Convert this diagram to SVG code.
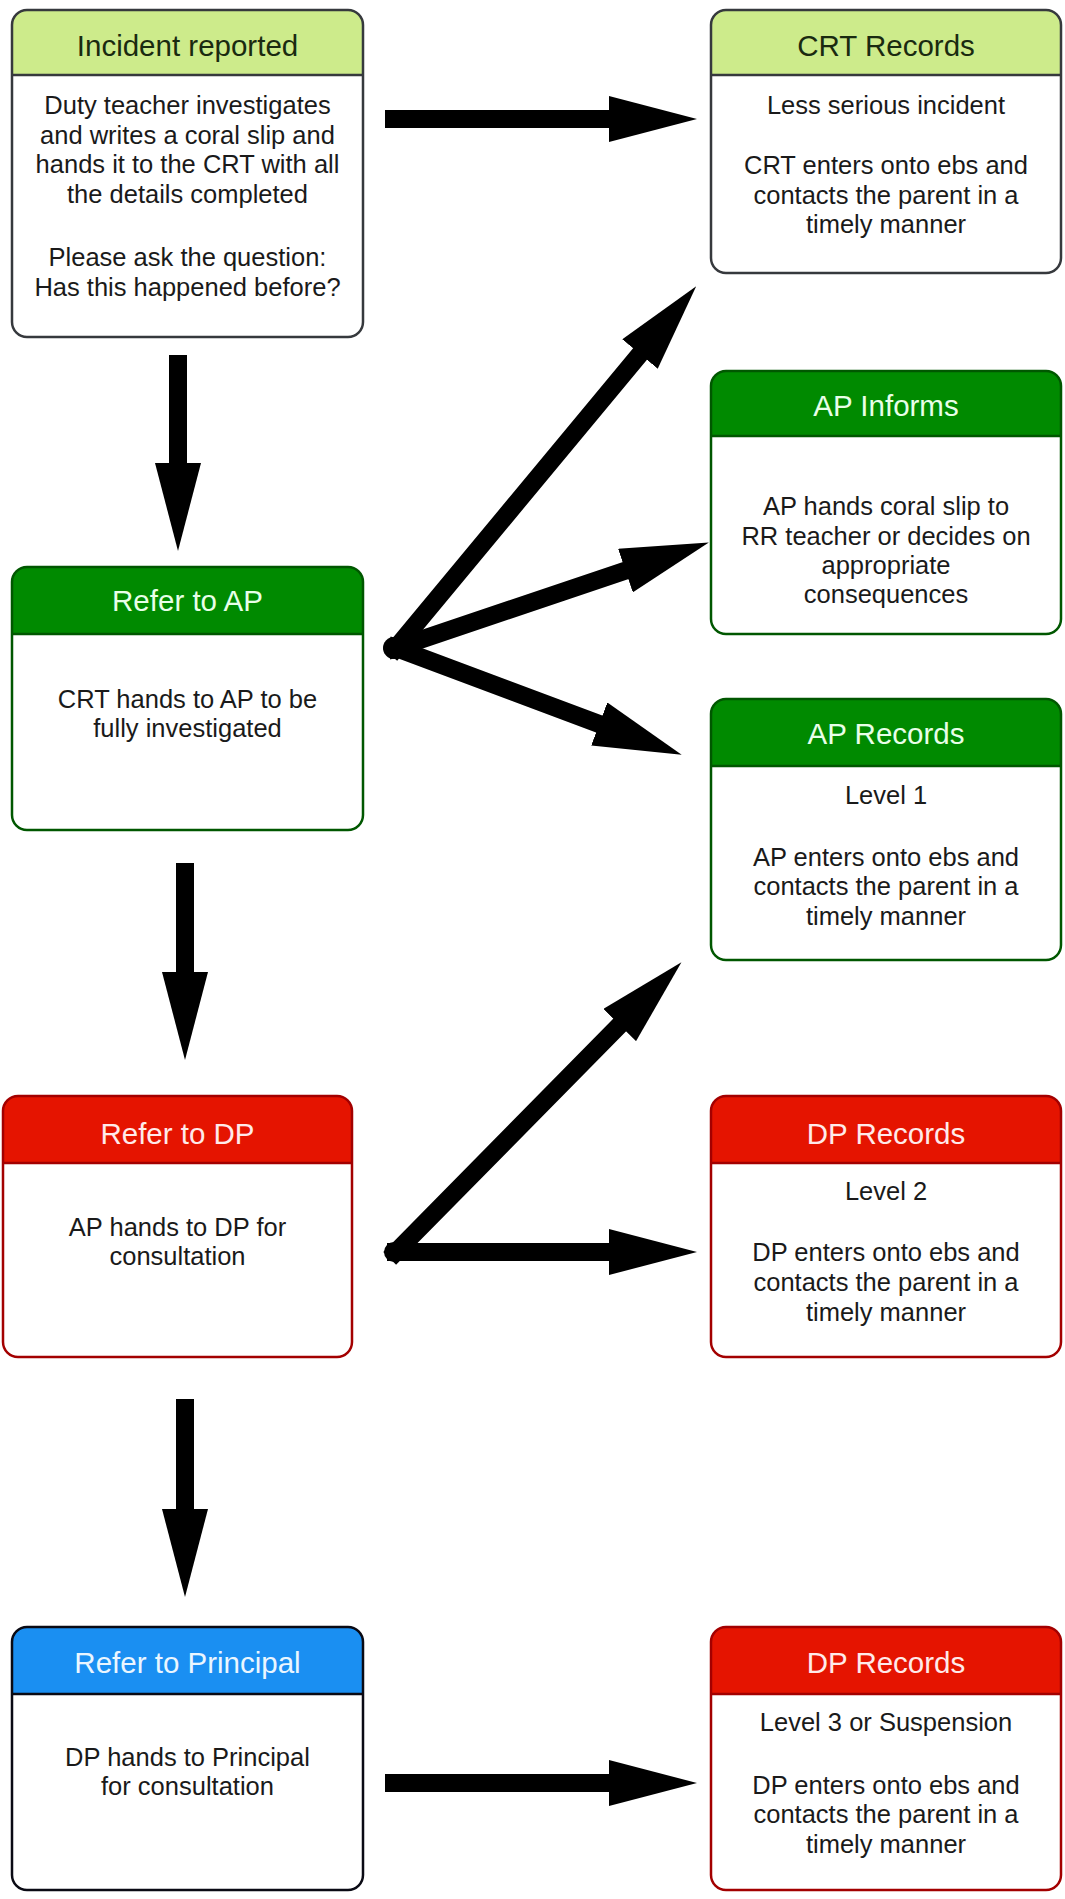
<svg xmlns="http://www.w3.org/2000/svg" width="1065" height="1899" viewBox="0 0 1065 1899">
<defs>
<style>
.box{fill:none;stroke-width:2.5}
.body{fill:#fff}
.t{font-family:"Liberation Sans",Arial,Helvetica,sans-serif;font-size:29.5px;text-anchor:middle}
.b{font-family:"Liberation Sans",Arial,Helvetica,sans-serif;font-size:25.5px;text-anchor:middle;fill:#1a1a1a}
.lg .hd{fill:#cdeb8b}.lg .box,.lg .sep{stroke:#36393d}.lg .t{fill:#1a2a10}
.gr .hd{fill:#008a00}.gr .box,.gr .sep{stroke:#005700}.gr .t{fill:#e8ffe8}
.rd .hd{fill:#e51400}.rd .box,.rd .sep{stroke:#a30000}.rd .t{fill:#ffeaea}
.bl .hd{fill:#1a8ff2}.bl .box,.bl .sep{stroke:#0a0a14}.bl .t{fill:#eaf6ff}
.sep{stroke-width:2.5}
.arr{stroke:#000;stroke-width:18;fill:none;stroke-linecap:butt;marker-end:url(#ah)}
.fan{stroke-linecap:square}
.hub{fill:#000}
</style>
<marker id="ah" viewBox="0 0 88 46" refX="18" refY="23" markerWidth="88" markerHeight="46" markerUnits="userSpaceOnUse" orient="auto">
<path d="M0,0 L88,23 L0,46 Z" fill="#000"/>
</marker>
</defs>
<rect width="1065" height="1899" fill="#fff"/>

<g id="connectors">
<line class="arr" x1="385" y1="119" x2="627" y2="119"/>
<line class="arr" x1="178" y1="355" x2="178" y2="481"/>
<line class="arr fan" x1="396" y1="648" x2="651.5" y2="340.2"/>
<line class="arr fan" x1="396" y1="648" x2="642.5" y2="564.8"/>
<line class="arr fan" x1="396" y1="648" x2="616.1" y2="730.3"/>
<circle class="hub" cx="394" cy="648" r="11"/>
<line class="arr" x1="185" y1="863" x2="185" y2="990"/>
<line class="arr fan" x1="396" y1="1252" x2="632.3" y2="1012.2"/>
<line class="arr fan" x1="396" y1="1252" x2="627" y2="1252"/>
<circle class="hub" cx="394" cy="1252" r="10"/>
<line class="arr" x1="185" y1="1399" x2="185" y2="1527"/>
<line class="arr" x1="385" y1="1783" x2="627" y2="1783"/>
</g>

<g id="incident-reported" class="lg">
<rect class="body" x="12" y="10" width="351" height="327" rx="15"/>
<path class="hd" d="M12,75 V25 A15,15 0 0 1 27,10 H348 A15,15 0 0 1 363,25 V75 Z"/>
<line class="sep" x1="12" y1="75" x2="363" y2="75"/>
<rect class="box" x="12" y="10" width="351" height="327" rx="15"/>
<text class="t" x="187.5" y="56">Incident reported</text>
<text class="b" x="187.5" y="114">Duty teacher investigates</text>
<text class="b" x="187.5" y="143.5">and writes a coral slip and</text>
<text class="b" x="187.5" y="173">hands it to the CRT with all</text>
<text class="b" x="187.5" y="202.5">the details completed</text>
<text class="b" x="187.5" y="266">Please ask the question:</text>
<text class="b" x="187.5" y="295.5">Has this happened before?</text>
</g>

<g id="crt-records" class="lg">
<rect class="body" x="711" y="10" width="350" height="263" rx="15"/>
<path class="hd" d="M711,75 V25 A15,15 0 0 1 726,10 H1046 A15,15 0 0 1 1061,25 V75 Z"/>
<line class="sep" x1="711" y1="75" x2="1061" y2="75"/>
<rect class="box" x="711" y="10" width="350" height="263" rx="15"/>
<text class="t" x="886" y="56">CRT Records</text>
<text class="b" x="886" y="114">Less serious incident</text>
<text class="b" x="886" y="174">CRT enters onto ebs and</text>
<text class="b" x="886" y="203.5">contacts the parent in a</text>
<text class="b" x="886" y="233">timely manner</text>
</g>

<g id="refer-to-ap" class="gr">
<rect class="body" x="12" y="567" width="351" height="263" rx="15"/>
<path class="hd" d="M12,634 V582 A15,15 0 0 1 27,567 H348 A15,15 0 0 1 363,582 V634 Z"/>
<line class="sep" x1="12" y1="634" x2="363" y2="634"/>
<rect class="box" x="12" y="567" width="351" height="263" rx="15"/>
<text class="t" x="187.5" y="611">Refer to AP</text>
<text class="b" x="187.5" y="708">CRT hands to AP to be</text>
<text class="b" x="187.5" y="737">fully investigated</text>
</g>

<g id="ap-informs" class="gr">
<rect class="body" x="711" y="371" width="350" height="263" rx="15"/>
<path class="hd" d="M711,436 V386 A15,15 0 0 1 726,371 H1046 A15,15 0 0 1 1061,386 V436 Z"/>
<line class="sep" x1="711" y1="436" x2="1061" y2="436"/>
<rect class="box" x="711" y="371" width="350" height="263" rx="15"/>
<text class="t" x="886" y="416">AP Informs</text>
<text class="b" x="886" y="515">AP hands coral slip to</text>
<text class="b" x="886" y="545">RR teacher or decides on</text>
<text class="b" x="886" y="574">appropriate</text>
<text class="b" x="886" y="603">consequences</text>
</g>

<g id="ap-records" class="gr">
<rect class="body" x="711" y="699" width="350" height="261" rx="15"/>
<path class="hd" d="M711,766 V714 A15,15 0 0 1 726,699 H1046 A15,15 0 0 1 1061,714 V766 Z"/>
<line class="sep" x1="711" y1="766" x2="1061" y2="766"/>
<rect class="box" x="711" y="699" width="350" height="261" rx="15"/>
<text class="t" x="886" y="744">AP Records</text>
<text class="b" x="886" y="804">Level 1</text>
<text class="b" x="886" y="866">AP enters onto ebs and</text>
<text class="b" x="886" y="895">contacts the parent in a</text>
<text class="b" x="886" y="925">timely manner</text>
</g>

<g id="refer-to-dp" class="rd">
<rect class="body" x="3" y="1096" width="349" height="261" rx="15"/>
<path class="hd" d="M3,1163 V1111 A15,15 0 0 1 18,1096 H337 A15,15 0 0 1 352,1111 V1163 Z"/>
<line class="sep" x1="3" y1="1163" x2="352" y2="1163"/>
<rect class="box" x="3" y="1096" width="349" height="261" rx="15"/>
<text class="t" x="177.5" y="1144">Refer to DP</text>
<text class="b" x="177.5" y="1236">AP hands to DP for</text>
<text class="b" x="177.5" y="1265">consultation</text>
</g>

<g id="dp-records-2" class="rd">
<rect class="body" x="711" y="1096" width="350" height="261" rx="15"/>
<path class="hd" d="M711,1163 V1111 A15,15 0 0 1 726,1096 H1046 A15,15 0 0 1 1061,1111 V1163 Z"/>
<line class="sep" x1="711" y1="1163" x2="1061" y2="1163"/>
<rect class="box" x="711" y="1096" width="350" height="261" rx="15"/>
<text class="t" x="886" y="1144">DP Records</text>
<text class="b" x="886" y="1200">Level 2</text>
<text class="b" x="886" y="1261">DP enters onto ebs and</text>
<text class="b" x="886" y="1291">contacts the parent in a</text>
<text class="b" x="886" y="1321">timely manner</text>
</g>

<g id="refer-to-principal" class="bl">
<rect class="body" x="12" y="1627" width="351" height="263" rx="15"/>
<path class="hd" d="M12,1694 V1642 A15,15 0 0 1 27,1627 H348 A15,15 0 0 1 363,1642 V1694 Z"/>
<line class="sep" x1="12" y1="1694" x2="363" y2="1694"/>
<rect class="box" x="12" y="1627" width="351" height="263" rx="15"/>
<text class="t" x="187.5" y="1673">Refer to Principal</text>
<text class="b" x="187.5" y="1766">DP hands to Principal</text>
<text class="b" x="187.5" y="1795">for consultation</text>
</g>

<g id="dp-records-3" class="rd">
<rect class="body" x="711" y="1627" width="350" height="263" rx="15"/>
<path class="hd" d="M711,1694 V1642 A15,15 0 0 1 726,1627 H1046 A15,15 0 0 1 1061,1642 V1694 Z"/>
<line class="sep" x1="711" y1="1694" x2="1061" y2="1694"/>
<rect class="box" x="711" y="1627" width="350" height="263" rx="15"/>
<text class="t" x="886" y="1673">DP Records</text>
<text class="b" x="886" y="1731">Level 3 or Suspension</text>
<text class="b" x="886" y="1794">DP enters onto ebs and</text>
<text class="b" x="886" y="1823">contacts the parent in a</text>
<text class="b" x="886" y="1853">timely manner</text>
</g>
</svg>
